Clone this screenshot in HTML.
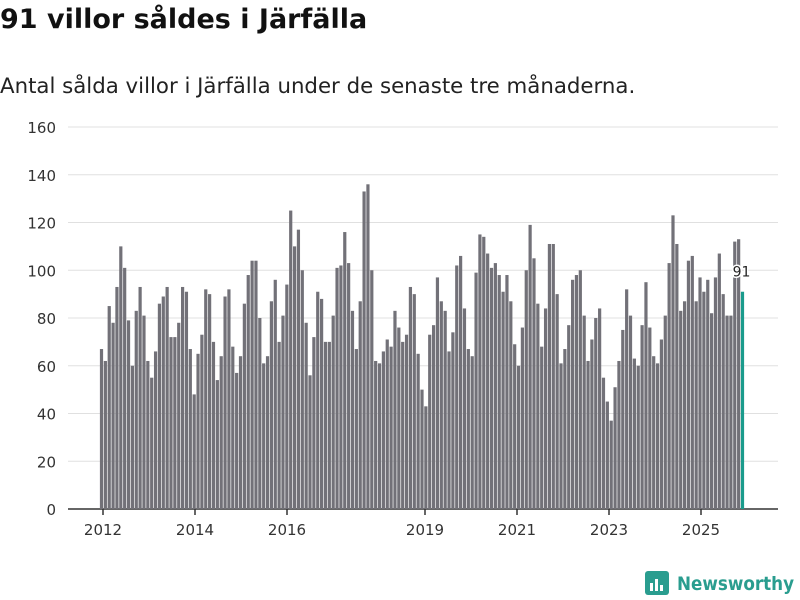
<!DOCTYPE html>
<html><head><meta charset="utf-8"><style>
body{margin:0;background:#fff;font-family:"DejaVu Sans","Liberation Sans",sans-serif;}
#wrap{position:relative;width:800px;height:600px;overflow:hidden;}
h1{position:absolute;left:0;top:4px;margin:0;font-size:27px;font-weight:bold;color:#111;}
p.sub{position:absolute;left:0;top:74px;margin:0;font-size:21.3px;color:#222;}
svg{position:absolute;left:0;top:0;}
</style></head><body>
<div id="wrap">
<h1>91 villor såldes i Järfälla</h1>
<p class="sub">Antal sålda villor i Järfälla under de senaste tre månaderna.</p>
<svg id="chart" width="800" height="600"></svg>
</div>
<script>
const values=[67,62,85,78,93,110,101,79,60,83,93,81,62,55,66,86,89,93,72,72,78,93,91,67,48,65,73,92,90,70,54,64,89,92,68,57,64,86,98,104,104,80,61,64,87,96,70,81,94,125,110,117,100,78,56,72,91,88,70,70,81,101,102,116,103,83,67,87,133,136,100,62,61,66,71,68,83,76,70,73,93,90,65,50,43,73,77,97,87,83,66,74,102,106,84,67,64,99,115,114,107,101,103,98,91,98,87,69,60,76,100,119,105,86,68,84,111,111,90,61,67,77,96,98,100,81,62,71,80,84,55,45,37,51,62,75,92,81,63,60,77,95,76,64,61,71,81,103,123,111,83,87,104,106,87,97,91,96,82,97,107,90,81,81,112,113,91];
const yTicks=[0,20,40,60,80,100,120,140,160];
const xTickYears=[2012,2014,2016,2019,2021,2023,2025];
const NS="http://www.w3.org/2000/svg";
const svg=document.getElementById('chart');
const y=v=>509-v*(382/160);
const xYear=yr=>103+(yr-2012)*46;
const n=values.length;
const xBar=i=>101.5+i*(641/(n-1));
function mk(t,a){const e=document.createElementNS(NS,t);for(const k in a)e.setAttribute(k,a[k]);svg.appendChild(e);return e;}
yTicks.forEach(t=>{
 const l=mk('line',{x1:68,x2:778,y1:y(t),y2:y(t),stroke:t===0?'#333':'#e0e0e0','stroke-width':t===0?1.5:1});
 
 
 const tx=mk('text',{x:56,y:y(t)+6,'text-anchor':'end','font-size':15,fill:'#333','font-family':'DejaVu Sans, Liberation Sans, sans-serif'});
 tx.textContent=t;
 
 
});
values.forEach((v,i)=>{
 const last=i===n-1;
 const r=mk('rect',{x:xBar(i)-1.6,y:y(v),width:3.2,height:509-y(v),fill:last?'#1a9b8c':'#727178'});
 
 
});
const lb=mk('text',{x:xBar(n-1)-1,y:y(values[n-1])-15,'text-anchor':'middle','font-size':14,fill:'#222','font-family':'DejaVu Sans, Liberation Sans, sans-serif',stroke:'#fff','stroke-width':3,'paint-order':'stroke'});
lb.textContent=values[n-1];


xTickYears.forEach(yr=>{
 const x=xYear(yr);
 const l=mk('line',{x1:x,x2:x,y1:509,y2:515,stroke:'#333','stroke-width':1.5});
 
 
 const t=mk('text',{x:x,y:535,'text-anchor':'middle','font-size':15,fill:'#333','font-family':'DejaVu Sans, Liberation Sans, sans-serif'});
 t.textContent=yr;
 
 
});
const logo=mk('g',{});


const bg=document.createElementNS(NS,'rect');
[['x',645],['y',571],['width',24],['height',24],['rx',3],['fill','#2a9d8f']].forEach(a=>bg.setAttribute(a[0],a[1]));
logo.appendChild(bg);
[[650,583,3,8],[655,579,3,12],[660,585,3,6]].forEach(b=>{const r=document.createElementNS(NS,'rect');r.setAttribute('x',b[0]);r.setAttribute('y',b[1]);r.setAttribute('width',b[2]);r.setAttribute('height',b[3]);r.setAttribute('fill','#fff');logo.appendChild(r);});
const lt=document.createElementNS(NS,'text');
lt.setAttribute('x',677);lt.setAttribute('y',590);lt.setAttribute('font-size',19);lt.setAttribute('font-weight','bold');lt.setAttribute('fill','#2a9d8f');lt.setAttribute('font-family','DejaVu Sans, Liberation Sans, sans-serif');
lt.setAttribute('textLength',117);lt.setAttribute('lengthAdjust','spacingAndGlyphs');
lt.textContent='Newsworthy';
logo.appendChild(lt);
</script>
</body></html>
